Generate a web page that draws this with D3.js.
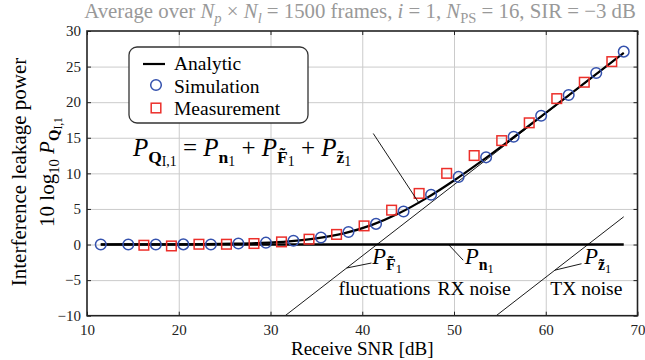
<!DOCTYPE html>
<meta charset="utf-8">
<style>
body { margin: 0; background: #fff; }
.grid line { stroke: #cbcbcb; stroke-width: 1; }
.grid path { display: none; }
.axis path { display: none; }
.axis line { stroke: #222; }
.axis text { fill: #222; }
</style>
<div id="chart"></div>
<script src="https://cdn.jsdelivr.net/npm/d3@7"></script>
<script>

// values
var snrSim  = [11.5, 14.5, 17.5, 20.5, 23.5, 26.5, 29.5, 32.5, 35.5, 38.5, 41.5, 44.5, 47.5, 50.5, 53.5, 56.5, 59.5, 62.5, 65.5, 68.5];
var powSim  = [0, 0, 0, 0.02, 0, 0.14, 0.26, 0.53, 0.98, 1.75, 2.9, 4.65, 7.0, 9.5, 12.25, 15.15, 18.1, 21.0, 24.1, 27.1];
var snrMeas = [16.2, 19.2, 22.2, 25.2, 28.2, 31.2, 34.2, 37.2, 40.2, 43.2, 46.2, 49.2, 52.2, 55.2, 58.2, 61.2, 64.2, 67.2];
var powMeas = [-0.1, -0.2, 0.04, 0.04, 0.14, 0.37, 0.75, 1.42, 2.62, 4.83, 7.18, 10.0, 12.5, 14.6, 17.1, 20.5, 22.8, 25.7];
var snrAnalytic = [11.5, 14, 17, 20, 23, 26, 29, 32, 35, 38, 41, 44, 47, 50, 53, 56, 59, 62, 65, 68.5];
var powAnalytic = [0, 0.01, 0.02, 0.03, 0.06, 0.12, 0.23, 0.45, 0.86, 1.57, 2.73, 4.39, 6.52, 9.0, 11.72, 14.58, 17.5, 20.46, 23.44, 26.93];
var snrRx = [11.5, 68.5],  powRx = [0, 0];        // P_n1, RX noise
var snrFl = [31.6, 68.5],  powFl = [-10, 26.9];   // P_F1, fluctuations
var snrTx = [54.6, 68.5],  powTx = [-10, 3.9];    // P_z1, TX noise
var xTicks = [10, 20, 30, 40, 50, 60, 70];
var yTicks = [-10, -5, 0, 5, 10, 15, 20, 25, 30];

var FONT = '"Liberation Serif", "Times New Roman", "DejaVu Serif", serif';

var svg = d3.select("#chart").append("svg")
    .attr("width", 645)
    .attr("height", 360),
    margin = {top: 31, right: 7.5, bottom: 44.3, left: 87},
    width = 645 - margin.left - margin.right,
    height = 360 - margin.top - margin.bottom,
    g = svg.append("g").attr("transform", "translate(" + margin.left + "," + margin.top + ")");

var x = d3.scaleLinear().domain([10, 70]).range([0, width]);
var y = d3.scaleLinear().domain([-10, 30]).range([height, 0]);

// text with italic / bold parts and sub/sub-sub scripts
function rich(sel, parts, fs) {
  var off = [0, 0.25 * fs, 0.4 * fs], size = [fs, 0.7 * fs, 0.55 * fs], lev = 0;
  parts.forEach(function(p) {
    if (typeof p === "string") p = {t: p};
    var l = p.s || 0;
    var ts = sel.append("tspan").text(p.t)
        .attr("dy", off[l] - off[lev])
        .style("font-size", size[l] + "px");
    if (p.i) ts.style("font-style", "italic");
    if (p.b) ts.style("font-weight", "bold");
    lev = l;
  });
}

// grid
g.append("g").attr("class", "grid")
    .call(d3.axisBottom(x).tickValues(xTicks.slice(1, -1)).tickSize(height).tickFormat(""));
g.append("g").attr("class", "grid")
    .call(d3.axisLeft(y).tickValues(yTicks.slice(1, -1)).tickSize(-width).tickFormat(""));

// axes, ticks pointing in
g.append("g").attr("class", "axis")
    .attr("transform", "translate(0," + height + ")")
    .call(d3.axisBottom(x).tickValues(xTicks).tickSizeInner(-4).tickSizeOuter(0).tickPadding(9));
g.append("g").attr("class", "axis")
    .call(d3.axisLeft(y).tickValues(yTicks).tickSizeInner(-4).tickSizeOuter(0).tickPadding(6)
      .tickFormat(function(d) { return d < 0 ? "\u2212" + (-d) : d; }));
g.append("g").attr("class", "axis")
    .call(d3.axisTop(x).tickValues(xTicks).tickSizeInner(-4).tickSizeOuter(0).tickFormat(""));
g.append("g").attr("class", "axis")
    .attr("transform", "translate(" + width + ",0)")
    .call(d3.axisRight(y).tickValues(yTicks).tickSizeInner(-4).tickSizeOuter(0).tickFormat(""));
g.selectAll(".axis text").style("font-size", "15px");

var line = d3.line()
    .x(function(d) { return x(d[0]); })
    .y(function(d) { return y(d[1]); });

function pairs(a, b) { return a.map(function(v, i) { return [v, b[i]]; }); }

g.append("path").datum(pairs(snrFl, powFl)).attr("d", line)
    .attr("fill", "none").attr("stroke", "#000").attr("stroke-width", 0.9);
g.append("path").datum(pairs(snrTx, powTx)).attr("d", line)
    .attr("fill", "none").attr("stroke", "#000").attr("stroke-width", 0.9);
g.append("path").datum(pairs(snrRx, powRx)).attr("d", line)
    .attr("fill", "none").attr("stroke", "#000").attr("stroke-width", 2.6);
g.append("path").datum(pairs(snrAnalytic, powAnalytic)).attr("d", line.curve(d3.curveMonotoneX))
    .attr("fill", "none").attr("stroke", "#000").attr("stroke-width", 2.2);

g.selectAll(".sim").data(pairs(snrSim, powSim)).enter().append("circle")
    .attr("class", "sim")
    .attr("cx", function(d) { return x(d[0]); })
    .attr("cy", function(d) { return y(d[1]); })
    .attr("r", 5.3)
    .attr("fill", "none").attr("stroke", "#3451ad").attr("stroke-width", 1.5);

g.selectAll(".meas").data(pairs(snrMeas, powMeas)).enter().append("rect")
    .attr("class", "meas")
    .attr("x", function(d) { return x(d[0]) - 4.8; })
    .attr("y", function(d) { return y(d[1]) - 4.8; })
    .attr("width", 9.6).attr("height", 9.6)
    .attr("fill", "none").attr("stroke", "#ec2f2a").attr("stroke-width", 1.5);

// frame
g.append("rect").attr("width", width).attr("height", height)
    .attr("fill", "none").attr("stroke", "#222").attr("stroke-width", 1.6);

// annotations (leader lines in data units)
var leaders = [
  [[41.2, 15.6], [46.2, 5.8]],
  [[41.0, -2.6], [38.3, -3.3]],
  [[49.4, 0], [51.0, -2.2]],
  [[63.9, -2.7], [61.0, -3.6]]
];
leaders.forEach(function(l) {
  g.append("path").datum(l).attr("d", line.curve(d3.curveLinear))
      .attr("fill", "none").attr("stroke", "#000").attr("stroke-width", 0.9);
});

rich(g.append("text").attr("x", x(15.0)).attr("y", y(12.4)),
  [{t: "P", i: 1}, {t: "Q", b: 1, s: 1}, {t: "I,1", s: 2}, " = ", {t: "P", i: 1}, {t: "n", b: 1, s: 1}, {t: "1", s: 2},
   " + ", {t: "P", i: 1}, {t: "F\u0303", b: 1, s: 1}, {t: "1", s: 2}, " + ", {t: "P", i: 1}, {t: "z\u0303", b: 1, s: 1}, {t: "1", s: 2}], 25);
rich(g.append("text").attr("x", x(41.1)).attr("y", y(-2.8)),
  [{t: "P", i: 1}, {t: "F\u0303", b: 1, s: 1}, {t: "1", s: 2}], 22.5);
rich(g.append("text").attr("x", x(51.2)).attr("y", y(-2.8)),
  [{t: "P", i: 1}, {t: "n", b: 1, s: 1}, {t: "1", s: 2}], 22.5);
rich(g.append("text").attr("x", x(64.2)).attr("y", y(-2.8)),
  [{t: "P", i: 1}, {t: "z\u0303", b: 1, s: 1}, {t: "1", s: 2}], 22.5);

[["fluctuations", 37.4], ["RX noise", 48.2], ["TX noise", 60.5]].forEach(function(t) {
  g.append("text").attr("x", x(t[1])).attr("y", y(-7.1))
      .style("font-size", "19.5px").text(t[0]);
});

// legend
var lg = svg.append("g").attr("transform", "translate(129,47)");
lg.append("rect").attr("width", 179).attr("height", 76).attr("rx", 8)
    .attr("fill", "#fff").attr("stroke", "#333").attr("stroke-width", 1.3);
lg.append("line").attr("x1", 14).attr("x2", 36).attr("y1", 17).attr("y2", 17)
    .attr("stroke", "#000").attr("stroke-width", 2.2);
lg.append("circle").attr("cx", 27).attr("cy", 38).attr("r", 5.3)
    .attr("fill", "none").attr("stroke", "#3451ad").attr("stroke-width", 1.5);
lg.append("rect").attr("x", 22.2).attr("y", 56.2).attr("width", 9.6).attr("height", 9.6)
    .attr("fill", "none").attr("stroke", "#ec2f2a").attr("stroke-width", 1.5);
["Analytic", "Simulation", "Measurement"].forEach(function(t, i) {
  lg.append("text").attr("x", 45).attr("y", 23 + i * 22.5)
      .style("font-size", "19.5px").text(t);
});

// title
var title = svg.append("text").attr("x", 360).attr("y", 18)
    .attr("text-anchor", "middle").attr("fill", "#999");
rich(title, ["Average over ", {t: "N", i: 1}, {t: "p", i: 1, s: 1}, " \u00d7 ", {t: "N", i: 1}, {t: "l", i: 1, s: 1},
  " = 1500 frames, ", {t: "i", i: 1}, " = 1, ", {t: "N", i: 1}, {t: "PS", s: 1}, " = 16, SIR = \u22123 dB"], 20.8);

// axis labels
svg.append("text").attr("x", margin.left + width / 2).attr("y", 355)
    .attr("text-anchor", "middle").style("font-size", "19px").text("Receive SNR [dB]");
svg.append("text").attr("transform", "translate(26,172) rotate(-90)")
    .attr("text-anchor", "middle").style("font-size", "21px").text("Interference leakage power");
rich(svg.append("text").attr("transform", "translate(54,172) rotate(-90)").attr("text-anchor", "middle"),
  ["10 log", {t: "10", s: 1}, " ", {t: "P", i: 1}, {t: "Q", b: 1, s: 1}, {t: "I,1", s: 2}], 21);

svg.selectAll("text").style("font-family", FONT);

</script>
